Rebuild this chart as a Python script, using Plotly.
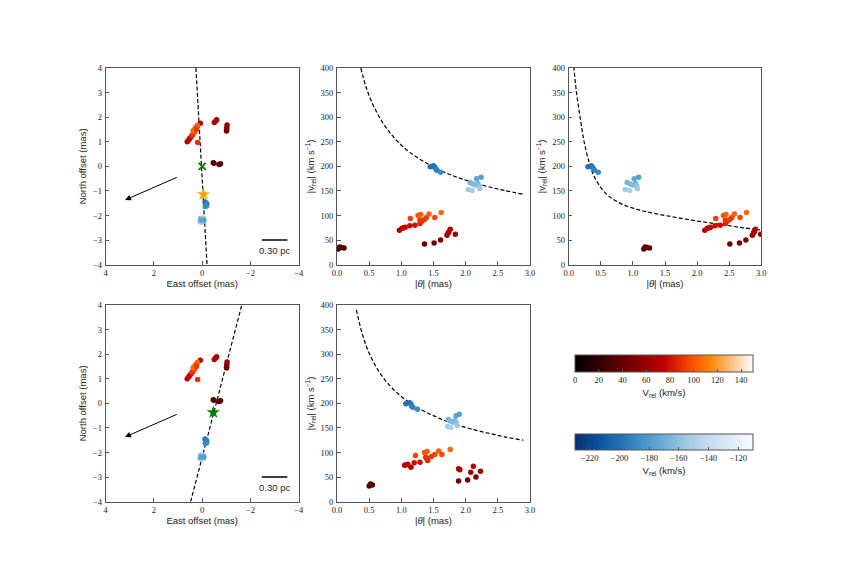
import plotly.graph_objects as go

W, H = 846, 564

# ---------------- data ----------------
# Sky positions: East offset (mas), North offset (mas), V_rel (km/s)
sky_red_east = [-0.46, -0.49, -0.70, -0.76,
                -1.01, -1.01, -1.02, -1.03, -0.60, -0.50, -0.56, 0.08,
                0.62, 0.56, 0.51, 0.45, 0.39, 0.34, 0.30, 0.23, 0.19, 0.42,
                0.36, 0.33, 0.29, 0.26, 0.20, 0.31, 0.37, 0.24]
sky_red_north = [0.15, 0.13, 0.08, 0.11,
                 1.44, 1.49, 1.57, 1.68, 1.90, 1.78, 1.84, 1.75,
                 1.00, 1.07, 1.14, 1.21, 1.30, 1.41, 1.50, 1.58, 0.97, 1.25,
                 1.42, 1.48, 1.52, 1.58, 1.66, 1.40, 1.46, 1.50]
sky_red_v = [34, 36, 33, 35,
             42, 44, 50, 60, 62, 65, 67, 72,
             70, 74, 75, 76, 79, 80, 84, 87, 89, 91,
             94, 100, 102, 96, 103, 96, 106, 92]

sky_blue_east = [-0.12, -0.14, -0.16, -0.18, -0.19, -0.13,
                 0.06, 0.03, 0.00, -0.04, -0.06, 0.09, 0.02, -0.03, 0.05, -0.07]
sky_blue_north = [-1.45, -1.50, -1.56, -1.60, -1.52, -1.63,
                  -2.12, -2.16, -2.20, -2.14, -2.22, -2.25, -2.27, -2.10, -2.19, -2.18]
sky_blue_v = [-199, -201, -198, -194, -192, -188,
              -167, -164, -162, -165, -160, -153, -151, -155, -175, -178]

# |theta| vs |v_rel| panels
red_vrel = [32, 36, 35, 34,
            42, 44, 50, 60, 62, 65, 67, 72,
            70, 74, 75, 76, 79, 80, 84, 87, 89, 91,
            94, 100, 102, 96, 103, 96, 106, 92]
red_theta_top_mid = [0.02, 0.04, 0.07, 0.11,
                     1.36, 1.51, 1.61, 1.71, 1.84, 1.73, 1.74, 1.76,
                     0.97, 1.01, 1.04, 1.06, 1.13, 1.21, 1.29, 1.30, 1.32, 1.29,
                     1.14, 1.26, 1.30, 1.39, 1.43, 1.52, 1.62, 1.36]
red_theta_top_right = [1.17, 1.19, 1.22, 1.26,
                       2.51, 2.66, 2.76, 2.86, 2.99, 2.88, 2.89, 2.91,
                       2.12, 2.16, 2.19, 2.21, 2.28, 2.36, 2.44, 2.45, 2.47, 2.44,
                       2.29, 2.41, 2.45, 2.54, 2.58, 2.67, 2.77, 2.51]
red_theta_bot_mid = [0.50, 0.52, 0.53, 0.55,
                     1.89, 2.03, 2.16, 2.08, 2.23, 1.91, 1.89, 2.12,
                     1.15, 1.05, 1.08, 1.10, 1.20, 1.29, 1.41, 1.40, 1.39, 1.38,
                     1.22, 1.36, 1.40, 1.52, 1.58, 1.63, 1.76, 1.47]

blue_vrel = [199, 201, 198, 194, 192, 188,
             167, 164, 162, 165, 160, 153, 151, 155, 175, 178]
blue_color = [-199, -201, -198, -194, -192, -188,
              -167, -164, -162, -165, -160, -153, -151, -155, -175, -178]
blue_theta_top_mid = [1.45, 1.50, 1.52, 1.54, 1.55, 1.61,
                      2.07, 2.11, 2.15, 2.19, 2.21, 2.04, 2.10, 2.22, 2.17, 2.24]
blue_theta_top_right = [0.30, 0.35, 0.37, 0.39, 0.40, 0.46,
                        0.91, 0.96, 1.00, 1.04, 1.06, 0.88, 0.95, 1.07, 1.02, 1.09]
blue_theta_bot_mid = [1.07, 1.13, 1.15, 1.16, 1.18, 1.25,
                      1.73, 1.76, 1.80, 1.83, 1.85, 1.72, 1.77, 1.87, 1.85, 1.90]

# dashed model curves
curve_top_mid_theta = [0.37, 0.45, 0.55, 0.70, 0.85, 1.0, 1.2, 1.4, 1.6, 1.8, 2.0, 2.2, 2.4, 2.6, 2.9]
curve_top_mid_v = [400, 362, 328, 291, 264, 243, 222, 206, 192, 181, 172, 164, 157, 151, 143]
curve_top_right_theta = [0.08, 0.12, 0.18, 0.24, 0.32, 0.41, 0.57, 0.77, 0.98, 1.2, 1.42, 1.68, 1.94, 2.2, 2.46, 2.72, 2.98]
curve_top_right_v = [403, 352, 298, 250, 208, 176, 146, 127, 116, 108, 102, 96, 90, 85, 80, 75, 71]
curve_bot_mid_theta = [0.30, 0.40, 0.50, 0.65, 0.80, 1.0, 1.2, 1.4, 1.6, 1.8, 2.0, 2.2, 2.4, 2.6, 2.9]
curve_bot_mid_v = [390, 338, 302, 265, 239, 214, 195, 181, 169, 159, 151, 144, 138, 132, 125]

# dashed lines on the sky panels (East, North)
line_top_east = [0.26, -0.20]
line_top_north = [4.0, -4.0]
line_bot_east = [0.48, -1.64]
line_bot_north = [-4.0, 4.0]

# reference markers
cross_top = ([0.0], [0.0])
star_top = ([-0.05], [-1.14])
star_bot = ([-0.46], [-0.37])

# proper-motion arrow (tail, head) and scale bar
arrow_tail = (0.99, -0.42)
arrow_head = (3.2, -1.37)
scalebar_east = (-2.47, -3.53)
scalebar_north = -3.0
scalebar_label = "0.30 pc"
scalebar_label_pos = (-3.0, -3.42)

sky_ticks = [4, 2, 0, -2, -4]
sky_yticks = [-4, -3, -2, -1, 0, 1, 2, 3, 4]
theta_ticks = [0.0, 0.5, 1.0, 1.5, 2.0, 2.5, 3.0]
vrel_ticks = [0, 50, 100, 150, 200, 250, 300, 350, 400]
cbar_red_ticks = [0, 20, 40, 60, 80, 100, 120, 140]
cbar_blue_ticks = [-220, -200, -180, -160, -140, -120]

# ---------------- styling ----------------
gist_heat = [[0.0, 'rgb(0,0,0)'], [0.5, 'rgb(191,0,0)'], [0.6667, 'rgb(255,85,0)'],
             [0.75, 'rgb(255,128,0)'], [1.0, 'rgb(255,255,255)']]
blues_r = [[0.0, '#08306b'], [0.125, '#08519c'], [0.25, '#2171b5'], [0.375, '#4292c6'],
           [0.5, '#6baed6'], [0.625, '#9ecae1'], [0.75, '#c6dbef'], [0.875, '#deebf7'],
           [1.0, '#f7fbff']]

TICKFONT = dict(family="Liberation Serif", size=8.5, color="#222")
TITLEFONT = dict(family="Liberation Sans", size=9.5, color="#222")
FRAME = "#555"
MS = 5.5


def px_x(a, b):
    return [a / W, b / W]


def px_y(top, bottom):
    return [1 - bottom / H, 1 - top / H]


fig = go.Figure()


def red_marker(c, show, cb=None):
    return dict(color=c, colorscale=gist_heat, cmin=0, cmax=150, size=MS,
                line=dict(width=0), showscale=show, colorbar=cb)


def blue_marker(c, show, cb=None):
    return dict(color=c, colorscale=blues_r, cmin=-230, cmax=-110, size=MS,
                line=dict(width=0), showscale=show, colorbar=cb)


cb_common = dict(orientation='h', lenmode='pixels', len=178, thicknessmode='pixels',
                 xanchor='center', x=664 / W, yanchor='top', xpad=0, ypad=0,
                 ticks='inside', ticklen=3, tickcolor=FRAME, tickfont=TICKFONT,
                 outlinewidth=1, outlinecolor=FRAME)
cb_red = dict(cb_common, y=1 - 355 / H, thickness=17, tickvals=cbar_red_ticks,
              title=dict(text="V<sub>rel</sub> (km/s)", side='bottom', font=TITLEFONT))
cb_blue = dict(cb_common, y=1 - 434 / H, thickness=16, tickvals=cbar_blue_ticks,
               title=dict(text="V<sub>rel</sub> (km/s)", side='bottom', font=TITLEFONT))

dash_line = dict(color='black', width=1.2, dash='4px,2.2px')

# ---- top-left sky panel ----
fig.add_trace(go.Scatter(x=line_top_east, y=line_top_north, mode='lines', line=dash_line,
                         xaxis='x', yaxis='y', showlegend=False, hoverinfo='skip'))
fig.add_trace(go.Scatter(x=sky_red_east, y=sky_red_north, mode='markers',
                         marker=red_marker(sky_red_v, True, cb_red), xaxis='x', yaxis='y',
                         showlegend=False))
fig.add_trace(go.Scatter(x=sky_blue_east, y=sky_blue_north, mode='markers',
                         marker=blue_marker(sky_blue_v, True, cb_blue), xaxis='x', yaxis='y',
                         showlegend=False))
fig.add_trace(go.Scatter(x=cross_top[0], y=cross_top[1], mode='markers',
                         marker=dict(symbol='x-thin', size=7, color='green',
                                     line=dict(width=2, color='green')),
                         xaxis='x', yaxis='y', showlegend=False))
fig.add_trace(go.Scatter(x=star_top[0], y=star_top[1], mode='markers',
                         marker=dict(symbol='star', size=10, color='orange', line=dict(width=0)),
                         xaxis='x', yaxis='y', showlegend=False))

# ---- bottom-left sky panel ----
fig.add_trace(go.Scatter(x=line_bot_east, y=line_bot_north, mode='lines', line=dash_line,
                         xaxis='x4', yaxis='y4', showlegend=False, hoverinfo='skip'))
fig.add_trace(go.Scatter(x=sky_red_east, y=sky_red_north, mode='markers',
                         marker=red_marker(sky_red_v, False), xaxis='x4', yaxis='y4',
                         showlegend=False))
fig.add_trace(go.Scatter(x=sky_blue_east, y=sky_blue_north, mode='markers',
                         marker=blue_marker(sky_blue_v, False), xaxis='x4', yaxis='y4',
                         showlegend=False))
fig.add_trace(go.Scatter(x=star_bot[0], y=star_bot[1], mode='markers',
                         marker=dict(symbol='star', size=10, color='green', line=dict(width=0)),
                         xaxis='x4', yaxis='y4', showlegend=False))

# ---- theta panels ----
for xa, ya, cth, cv, rth, bth in [
    ('x2', 'y2', curve_top_mid_theta, curve_top_mid_v, red_theta_top_mid, blue_theta_top_mid),
    ('x3', 'y3', curve_top_right_theta, curve_top_right_v, red_theta_top_right, blue_theta_top_right),
    ('x5', 'y5', curve_bot_mid_theta, curve_bot_mid_v, red_theta_bot_mid, blue_theta_bot_mid),
]:
    fig.add_trace(go.Scatter(x=cth, y=cv, mode='lines', line=dict(dash_line, shape='spline'),
                             xaxis=xa, yaxis=ya, showlegend=False, hoverinfo='skip'))
    fig.add_trace(go.Scatter(x=rth, y=red_vrel, mode='markers',
                             marker=red_marker(red_vrel, False), xaxis=xa, yaxis=ya,
                             showlegend=False))
    fig.add_trace(go.Scatter(x=bth, y=blue_vrel, mode='markers',
                             marker=blue_marker(blue_color, False), xaxis=xa, yaxis=ya,
                             showlegend=False))


# ---------------- axes ----------------
def axis(domain, rng, tickvals, anchor, title, fmt=None, standoff=4, lab=0):
    d = dict(domain=domain, range=rng, tickvals=tickvals, anchor=anchor,
             showgrid=False, zeroline=False, showline=True, linecolor=FRAME, linewidth=1,
             mirror=True, ticks='inside', ticklen=3.5, tickcolor=FRAME, tickfont=TICKFONT,
             automargin=False, ticklabelstandoff=lab,
             title=dict(text=title, font=TITLEFONT, standoff=standoff))
    if fmt:
        d['tickformat'] = fmt
    return d


xs = {1: px_x(105.7, 298.7), 2: px_x(337, 530), 3: px_x(568.7, 761.3),
      4: px_x(105.7, 298.7), 5: px_x(337, 530)}
top = px_y(68, 264.7)
bot = px_y(305, 501.7)

east_t = "East offset (mas)"
north_t = "North offset (mas)"
theta_t = "|<i>θ</i>| (mas)"
vrel_t = "|v<sub>rel</sub>| (km s<sup>−1</sup>)"

fig.update_layout(
    width=W, height=H, margin=dict(l=0, r=0, t=0, b=0, pad=0, autoexpand=False),
    paper_bgcolor='white', plot_bgcolor='white', showlegend=False,
    xaxis=axis(xs[1], [4, -4], sky_ticks, 'y', east_t, standoff=3),
    yaxis=axis(top, [-4, 4], sky_yticks, 'x', north_t, standoff=4, lab=1),
    xaxis2=axis(xs[2], [0, 3], theta_ticks, 'y2', theta_t, fmt='.1f', standoff=3),
    yaxis2=axis(top, [0, 400], vrel_ticks, 'x2', vrel_t, standoff=4, lab=1),
    xaxis3=axis(xs[3], [0, 3], theta_ticks, 'y3', theta_t, fmt='.1f', standoff=3),
    yaxis3=axis(top, [0, 400], vrel_ticks, 'x3', vrel_t, standoff=4, lab=1),
    xaxis4=axis(xs[4], [4, -4], sky_ticks, 'y4', east_t, standoff=3),
    yaxis4=axis(bot, [-4, 4], sky_yticks, 'x4', north_t, standoff=4, lab=1),
    xaxis5=axis(xs[5], [0, 3], theta_ticks, 'y5', theta_t, fmt='.1f', standoff=3),
    yaxis5=axis(bot, [0, 400], vrel_ticks, 'x5', vrel_t, standoff=4, lab=1),
)

# arrows, scale bars
for xr, yr in [('x', 'y'), ('x4', 'y4')]:
    fig.add_annotation(x=arrow_head[0], y=arrow_head[1], ax=arrow_tail[0], ay=arrow_tail[1],
                       xref=xr, yref=yr, axref=xr, ayref=yr, text='', showarrow=True,
                       arrowhead=2, arrowsize=1.2, arrowwidth=1, arrowcolor='black')
    fig.add_shape(type='line', xref=xr, yref=yr, x0=scalebar_east[0], x1=scalebar_east[1],
                  y0=scalebar_north, y1=scalebar_north, line=dict(color='black', width=1.5))
    fig.add_annotation(x=scalebar_label_pos[0], y=scalebar_label_pos[1], xref=xr, yref=yr,
                       text=scalebar_label, showarrow=False,
                       font=dict(family="Liberation Sans", size=9.5, color='#222'))

fig.write_html("out.html", config={'displayModeBar': False},
               post_script="document.body.style.margin='0';document.body.style.overflow='hidden';")
